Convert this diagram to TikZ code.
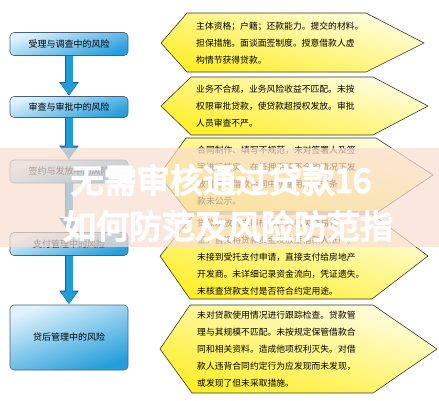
\documentclass[tikz,border=0pt]{standalone}
\usepackage{fontspec}
\setmainfont{Noto Sans CJK SC}
\newfontfamily\wmfont[FakeBold=5]{Noto Sans CJK SC}
\usetikzlibrary{arrows.meta}

\definecolor{boxlight}{RGB}{224,242,252}
\definecolor{boxdark}{RGB}{38,158,220}
\definecolor{boxedge}{RGB}{70,98,122}
\definecolor{hexlight}{RGB}{255,253,228}
\definecolor{hexdark}{RGB}{255,238,40}
\definecolor{hexedge}{RGB}{55,55,40}
\definecolor{arrowblue}{RGB}{32,156,216}
\definecolor{arrowedge}{RGB}{28,92,140}
\definecolor{wmpink}{RGB}{248,222,210}

\tikzset{
    riskbox/.style={draw=boxedge, line width=0.6pt, rounded corners=4pt,
        top color=boxlight, bottom color=boxdark, shading angle=20,
        minimum width=118pt, minimum height=23pt, inner sep=0pt,
        font=\fontsize{9}{11}\selectfont},
    riskhex/.style={draw=hexedge, line width=0.6pt,
        top color=hexlight, bottom color=hexdark, shading angle=-15},
    risknote/.style={anchor=west, align=left, inner sep=0pt,
        font=\fontsize{8.8}{17}\selectfont},
    flowarrow/.style={draw=arrowblue, line width=7pt,
        -{Triangle[length=12pt,width=16pt]}, shorten >=1pt,
        preaction={draw=arrowedge, line width=8.6pt,
            -{Triangle[length=13.5pt,width=18.5pt]}, shorten >=0.5pt}},
    watermark/.style={text=white, opacity=0.95, inner sep=0pt,
        font=\wmfont\fontsize{33}{36}\selectfont},
}

\begin{document}
\begin{tikzpicture}[x=1pt, y=-1pt]
        \useasboundingbox (0, 0) rectangle (439, 400);
        \node[riskbox] (accept) at (69, 44) {受理与调查中的风险};
        \node[riskbox, minimum height=21pt] (review) at (69, 107) {审查与审批中的风险};
        \node[riskbox] (sign) at (69, 171.5) {签约与发放中的风险};
        \node[riskbox] (pay) at (69, 244) {支付管理中的风险};
        \node[riskbox, minimum height=65pt] (after) at (69, 337.5) {贷后管理中的风险};
        \draw[flowarrow] (accept) -- (review);
        \draw[flowarrow] (review) -- (sign);
        \draw[flowarrow] (sign) -- (pay);
        \draw[flowarrow] (pay) -- (after);
        \draw[riskhex] (161, 43) -- (187, 13) -- (366, 13) -- (424, 43) -- (366, 72) -- (187, 72) -- cycle;
        \draw[riskhex] (161, 106) -- (191, 77) -- (373, 77) -- (428, 106) -- (373, 135) -- (191, 135) -- cycle;
        \draw[riskhex] (159, 175) -- (186, 138) -- (376, 138) -- (433, 175) -- (378, 212) -- (188, 212) -- cycle;
        \draw[riskhex] (160, 256) -- (194, 214) -- (372, 214) -- (428, 256) -- (372, 299) -- (190, 299) -- cycle;
        \draw[riskhex] (160, 349) -- (190, 305) -- (373, 305) -- (437, 349) -- (373, 393) -- (192, 393) -- cycle;
        \node[risknote] (note1) at (196, 43) {主体资格；户籍；还款能力。提交的材料。\\担保措施。面谈面签制度。授意借款人虚\\构情节获得贷款。};
        \node[risknote] (note2) at (196, 106) {业务不合规，业务风险收益不匹配。未按\\权限审批贷款，使贷款超授权发放。审批\\人员审查不严。};
        \node[risknote] (note3) at (197, 176) {合同制作、填写不规范，未对签署人及签\\字进行核实，在抵押手续不全的情况下发\\放贷款，借款合同中所使用的格式条\\款未公示。};
        \node[risknote] (note4) at (197, 257) {贷款发放前未审核借款人相关交易凭\\证。直接将贷款资金发放至借款人账户。\\未接到受托支付申请，直接支付给房地产\\开发商。未详细记录资金流向，凭证遗失。\\未核查贷款支付是否符合约定用途。};
        \node[risknote] (note5) at (197, 349.5) {未对贷款使用情况进行跟踪检查。贷款管\\理与其规模不匹配。未按规定保管借款合\\同和相关资料。造成他项权利灭失。对借\\款人违背合同约定行为应发现而未发现，\\或发现了但未采取措施。};
        \fill[wmpink, opacity=0.7] (0, 148) rectangle (439, 247);
        \node[watermark] (wm1) at (221, 180) {无需审核通过贷款16};
        \node[watermark] (wm2) at (228, 226) {如何防范及风险防范指};
\end{tikzpicture}
\end{document}
